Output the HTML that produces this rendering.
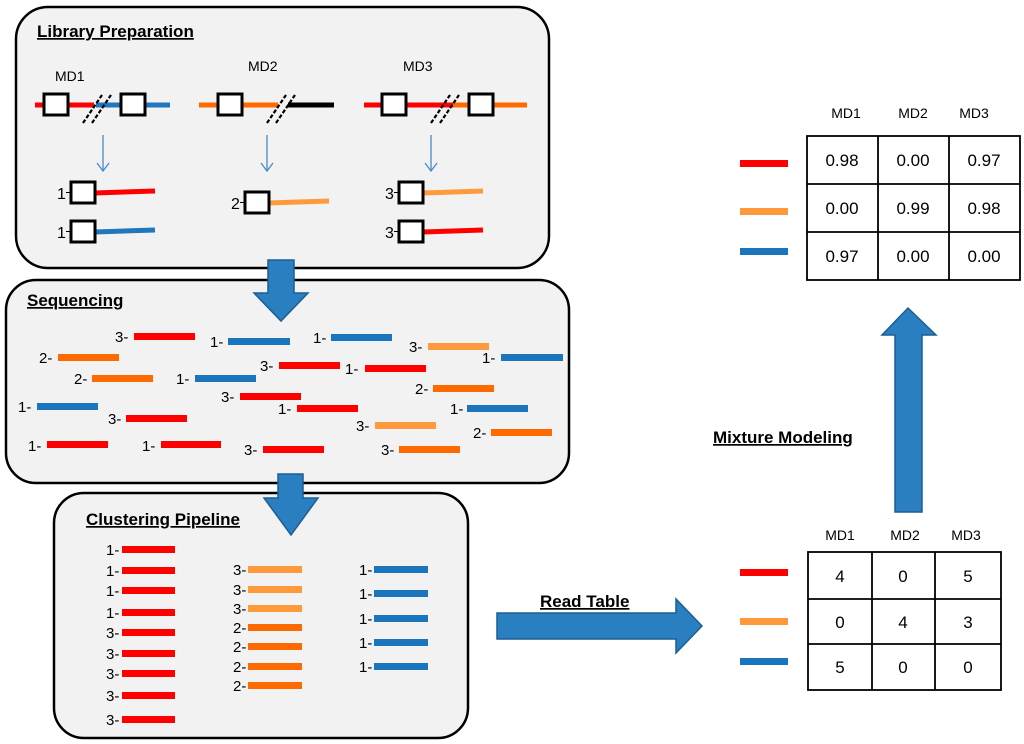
<!DOCTYPE html>
<html><head><meta charset="utf-8"><style>
html,body{margin:0;padding:0;background:#fff;}
svg{display:block;font-family:"Liberation Sans",sans-serif;}
.u{text-decoration:underline;}
</style></head><body>
<svg width="1024" height="744" viewBox="0 0 1024 744">
<defs>
<g id="sq"><rect width="24" height="21" fill="#fff" stroke="#000" stroke-width="3"/></g>
</defs>
<rect x="16" y="7" width="533" height="261" rx="32" fill="#f2f2f2" stroke="#000" stroke-width="2.5"/>
<rect x="6" y="280" width="563" height="203" rx="30" fill="#f2f2f2" stroke="#000" stroke-width="2.5"/>
<rect x="54" y="493" width="414" height="245" rx="30" fill="#f2f2f2" stroke="#000" stroke-width="2.5"/>

<g font-weight="bold" font-size="17" fill="#000">
<text class="u" x="37" y="37">Library Preparation</text>
<text class="u" x="27" y="306">Sequencing</text>
<text class="u" x="86" y="525">Clustering Pipeline</text>
<text class="u" x="713" y="443">Mixture Modeling</text>
<text class="u" x="540" y="607">Read Table</text>
</g>

<g font-size="14" fill="#000">
<text x="55" y="81">MD1</text><text x="248" y="71">MD2</text><text x="403" y="71">MD3</text>
</g>
<g stroke-width="5">
<line x1="35" y1="105" x2="94" y2="105" stroke="#ff0000"/>
<line x1="96" y1="105" x2="170" y2="105" stroke="#1f77bd"/>
<line x1="199" y1="105" x2="278" y2="105" stroke="#ff6a00"/>
<line x1="288" y1="105" x2="334" y2="105" stroke="#000"/>
<line x1="364" y1="105" x2="455" y2="105" stroke="#ff0000"/>
<line x1="453" y1="105" x2="527" y2="105" stroke="#ff6a00"/>
</g>
<g stroke="#000" stroke-width="2.2" stroke-dasharray="4,2">
<line x1="83" y1="123" x2="102" y2="95"/><line x1="92" y1="123" x2="111" y2="95"/>
<line x1="267" y1="123" x2="286" y2="95"/><line x1="276" y1="123" x2="295" y2="95"/>
<line x1="431" y1="123" x2="450" y2="95"/><line x1="440" y1="123" x2="459" y2="95"/>
</g>
<use href="#sq" x="44" y="94"/><use href="#sq" x="121" y="94"/>
<use href="#sq" x="218" y="94"/>
<use href="#sq" x="382" y="94"/><use href="#sq" x="469" y="94"/>
<g stroke="#4a8ac8" stroke-width="1.3" fill="none">
<line x1="103" y1="135" x2="103" y2="171"/><polyline points="97,163 103,171 109,163"/>
<line x1="267" y1="135" x2="267" y2="171"/><polyline points="261,163 267,171 273,163"/>
<line x1="431" y1="135" x2="431" y2="171"/><polyline points="425,163 431,171 437,163"/>
</g>
<g stroke-width="5">
<line x1="95" y1="193" x2="155" y2="191" stroke="#ff0000"/>
<line x1="95" y1="232" x2="155" y2="230" stroke="#1f77bd"/>
<line x1="268" y1="203" x2="329" y2="201" stroke="#ff9a3c"/>
<line x1="423" y1="193" x2="483" y2="191" stroke="#ff9a3c"/>
<line x1="423" y1="232" x2="483" y2="230" stroke="#ff0000"/>
</g>
<use href="#sq" x="71" y="182"/><use href="#sq" x="71" y="221"/>
<use href="#sq" x="245" y="192"/>
<use href="#sq" x="399" y="182"/><use href="#sq" x="399" y="221"/>
<g font-size="16" fill="#000">
<text x="57" y="199">1</text><rect x="66" y="192" width="5" height="1"/>
<text x="57" y="238">1</text><rect x="66" y="231" width="5" height="1"/>
<text x="231" y="209">2</text><rect x="240" y="202" width="5" height="1"/>
<text x="385" y="199">3</text><rect x="394" y="192" width="5" height="1"/>
<text x="385" y="238">3</text><rect x="394" y="231" width="5" height="1"/>
</g>

<g font-size="15" fill="#000">
<text x="115" y="342">3-</text><rect x="134" y="333" width="61" height="7" fill="#ff0000"/>
<text x="210" y="347">1-</text><rect x="228" y="338" width="62" height="7" fill="#1a75bc"/>
<text x="313" y="343">1-</text><rect x="331" y="334" width="61" height="7" fill="#1a75bc"/>
<text x="409" y="352">3-</text><rect x="428" y="343" width="61" height="7" fill="#ff9a3c"/>
<text x="482" y="363">1-</text><rect x="501" y="354" width="62" height="7" fill="#1a75bc"/>
<text x="39" y="363">2-</text><rect x="58" y="354" width="61" height="7" fill="#ff6a00"/>
<text x="260" y="371">3-</text><rect x="279" y="362" width="61" height="7" fill="#ff0000"/>
<text x="345" y="374">1-</text><rect x="365" y="365" width="61" height="7" fill="#ff0000"/>
<text x="74" y="384">2-</text><rect x="92" y="375" width="61" height="7" fill="#ff6a00"/>
<text x="176" y="384">1-</text><rect x="195" y="375" width="61" height="7" fill="#1a75bc"/>
<text x="415" y="394">2-</text><rect x="433" y="385" width="61" height="7" fill="#ff6a00"/>
<text x="221" y="402">3-</text><rect x="240" y="393" width="61" height="7" fill="#ff0000"/>
<text x="18" y="412">1-</text><rect x="37" y="403" width="61" height="7" fill="#1a75bc"/>
<text x="278" y="414">1-</text><rect x="297" y="405" width="61" height="7" fill="#ff0000"/>
<text x="450" y="414">1-</text><rect x="467" y="405" width="61" height="7" fill="#1a75bc"/>
<text x="108" y="424">3-</text><rect x="126" y="415" width="61" height="7" fill="#ff0000"/>
<text x="356" y="431">3-</text><rect x="375" y="422" width="61" height="7" fill="#ff9a3c"/>
<text x="473" y="438">2-</text><rect x="491" y="429" width="61" height="7" fill="#ff6a00"/>
<text x="28" y="451">1-</text><rect x="47" y="441" width="61" height="7" fill="#ff0000"/>
<text x="142" y="451">1-</text><rect x="161" y="441" width="60" height="7" fill="#ff0000"/>
<text x="244" y="455">3-</text><rect x="263" y="446" width="61" height="7" fill="#ff0000"/>
<text x="381" y="455">3-</text><rect x="399" y="446" width="61" height="7" fill="#ff6a00"/>
</g>

<g font-size="15" fill="#000">
<text x="106" y="555">1-</text><rect x="122" y="546" width="53" height="7" fill="#ff0000"/>
<text x="106" y="576">1-</text><rect x="122" y="567" width="53" height="7" fill="#ff0000"/>
<text x="106" y="596">1-</text><rect x="122" y="587" width="53" height="7" fill="#ff0000"/>
<text x="106" y="618">1-</text><rect x="122" y="609" width="53" height="7" fill="#ff0000"/>
<text x="106" y="638">3-</text><rect x="122" y="629" width="53" height="7" fill="#ff0000"/>
<text x="106" y="659">3-</text><rect x="122" y="650" width="53" height="7" fill="#ff0000"/>
<text x="106" y="679">3-</text><rect x="122" y="670" width="53" height="7" fill="#ff0000"/>
<text x="106" y="701">3-</text><rect x="122" y="692" width="53" height="7" fill="#ff0000"/>
<text x="106" y="725">3-</text><rect x="122" y="716" width="53" height="7" fill="#ff0000"/>

<text x="233" y="575">3-</text><rect x="248" y="566" width="54" height="7" fill="#ff9a3c"/>
<text x="233" y="595">3-</text><rect x="248" y="586" width="54" height="7" fill="#ff9a3c"/>
<text x="233" y="614">3-</text><rect x="248" y="605" width="54" height="7" fill="#ff9a3c"/>
<text x="233" y="633">2-</text><rect x="248" y="624" width="54" height="7" fill="#ff6a00"/>
<text x="233" y="652">2-</text><rect x="248" y="643" width="54" height="7" fill="#ff6a00"/>
<text x="233" y="672">2-</text><rect x="248" y="663" width="54" height="7" fill="#ff6a00"/>
<text x="233" y="691">2-</text><rect x="248" y="682" width="54" height="7" fill="#ff6a00"/>

<text x="359" y="575">1-</text><rect x="374" y="566" width="54" height="7" fill="#1a75bc"/>
<text x="359" y="599">1-</text><rect x="374" y="590" width="54" height="7" fill="#1a75bc"/>
<text x="359" y="624">1-</text><rect x="374" y="615" width="54" height="7" fill="#1a75bc"/>
<text x="359" y="648">1-</text><rect x="374" y="639" width="54" height="7" fill="#1a75bc"/>
<text x="359" y="672">1-</text><rect x="374" y="663" width="54" height="7" fill="#1a75bc"/>
</g>

<g fill="#2a7fc0" stroke="#1d5e92" stroke-width="1.5">
<polygon points="268,260 294,260 294,293 308,293 281,321 254,293 268,293"/>
<polygon points="278,474 303,474 303,498 318,498 291,535 264,498 278,498"/>
<polygon points="497,613 676,613 676,599 702,626 676,653 676,639 497,639"/>
<polygon points="895,512 922,512 922,335 936,335 908,308 882,335 895,335"/>
</g>

<g font-size="14" fill="#000" text-anchor="middle">
<text x="846" y="118">MD1</text><text x="913" y="118">MD2</text><text x="974" y="118">MD3</text>
</g>
<g stroke="#000" stroke-width="1.8" fill="#fff">
<rect x="807" y="136" width="213" height="144"/>
<line x1="878" y1="136" x2="878" y2="280"/><line x1="949" y1="136" x2="949" y2="280"/>
<line x1="807" y1="184" x2="1020" y2="184"/><line x1="807" y1="232" x2="1020" y2="232"/>
</g>
<g font-size="17" fill="#000" text-anchor="middle">
<text x="842" y="166">0.98</text><text x="913" y="166">0.00</text><text x="984" y="166">0.97</text>
<text x="842" y="214">0.00</text><text x="913" y="214">0.99</text><text x="984" y="214">0.98</text>
<text x="842" y="262">0.97</text><text x="913" y="262">0.00</text><text x="984" y="262">0.00</text>
</g>
<rect x="740" y="160" width="48" height="7" fill="#ff0000"/>
<rect x="740" y="208" width="48" height="7" fill="#ff9a3c"/>
<rect x="740" y="248" width="48" height="7" fill="#1a75bc"/>

<g font-size="14" fill="#000" text-anchor="middle">
<text x="840" y="540">MD1</text><text x="905" y="540">MD2</text><text x="966" y="540">MD3</text>
</g>
<g stroke="#000" stroke-width="1.8" fill="#fff">
<rect x="808" y="552" width="193" height="138"/>
<line x1="872" y1="552" x2="872" y2="690"/><line x1="935" y1="552" x2="935" y2="690"/>
<line x1="808" y1="599" x2="1001" y2="599"/><line x1="808" y1="644" x2="1001" y2="644"/>
</g>
<g font-size="17" fill="#000" text-anchor="middle">
<text x="840" y="582">4</text><text x="903" y="582">0</text><text x="968" y="582">5</text>
<text x="840" y="628">0</text><text x="903" y="628">4</text><text x="968" y="628">3</text>
<text x="840" y="673">5</text><text x="903" y="673">0</text><text x="968" y="673">0</text>
</g>
<rect x="740" y="569" width="48" height="7" fill="#ff0000"/>
<rect x="740" y="618" width="48" height="7" fill="#ff9a3c"/>
<rect x="740" y="658" width="48" height="7" fill="#1a75bc"/>
</svg>
</body></html>
